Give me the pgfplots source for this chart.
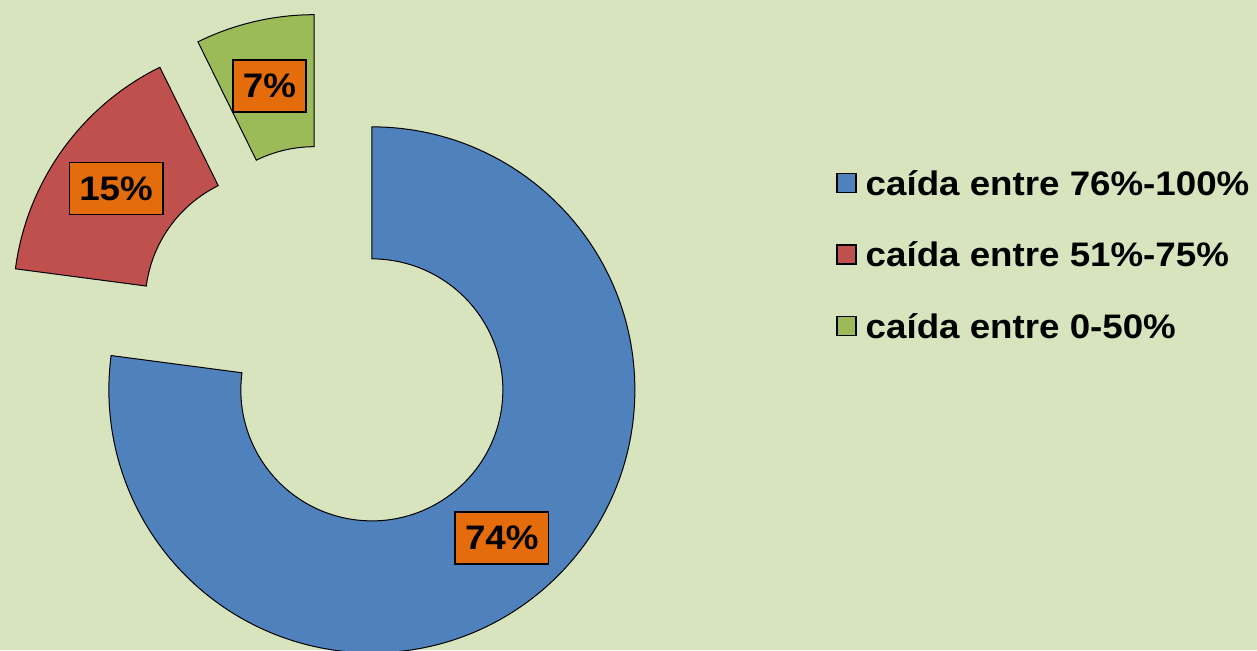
\documentclass[border=0pt]{standalone}
\usepackage{fontspec}
\setmainfont{Liberation Sans}[FakeStretch=1.08]
\usepackage{pgfplots}
\usepackage{pgfplotstable}
\pgfplotsset{compat=1.18}
\definecolor{bg}{HTML}{D7E4BD}
\definecolor{cA}{HTML}{4F81BD}
\definecolor{cB}{HTML}{C0504D}
\definecolor{cC}{HTML}{9BBB59}
\definecolor{lab}{HTML}{E46C0A}

\pgfplotstableread{
value
74
15
7
}\donut

\begin{document}
\begin{tikzpicture}
\pgfplotstablegetelem{0}{value}\of\donut \let\vA\pgfplotsretval
\pgfplotstablegetelem{1}{value}\of\donut \let\vB\pgfplotsretval
\pgfplotstablegetelem{2}{value}\of\donut \let\vC\pgfplotsretval
\pgfmathsetmacro\tot{\vA+\vB+\vC}
\pgfmathsetmacro\aA{90}
\pgfmathsetmacro\bA{90-(\vA/\tot)*360}
\pgfmathsetmacro\bB{\bA-(\vB/\tot)*360}
\pgfmathsetmacro\bC{-270}
\pgfmathsetmacro\mA{(\aA+\bA)/2}
\pgfmathsetmacro\mB{(\bA+\bB)/2}
\pgfmathsetmacro\mC{(\bB+\bC)/2}
% exploded centres (centre 329,309; explosion 65)
\pgfmathsetmacro\xA{329+65*cos(\mA)}\pgfmathsetmacro\yA{309+65*sin(\mA)}
\pgfmathsetmacro\xB{329+65*cos(\mB)}\pgfmathsetmacro\yB{309+65*sin(\mB)}
\pgfmathsetmacro\xC{329+65*cos(\mC)}\pgfmathsetmacro\yC{309+65*sin(\mC)}
% label positions
\pgfmathsetmacro\lxA{\xA+197*cos(\mA)}\pgfmathsetmacro\lyA{\yA+197*sin(\mA)}
\pgfmathsetmacro\lxB{\xB+197*cos(\mB)}\pgfmathsetmacro\lyB{\yB+197*sin(\mB)}
\pgfmathsetmacro\lxC{\xC+197*cos(\mC)}\pgfmathsetmacro\lyC{\yC+197*sin(\mC)}
\begin{axis}[x=1pt,y=1pt,xmin=0,xmax=1257,ymin=0,ymax=650,hide axis,
  legend style={at={(axis cs:836,481)},anchor=north west,draw=none,fill=none,
    font=\fontsize{34}{40}\selectfont\bfseries,inner sep=0pt,
    row sep=37.5pt,
    nodes={inner sep=0pt,text height=26pt,text depth=8pt},
    /tikz/every odd column/.append style={column sep=9pt}},
  legend cell align=left,
  legend image code/.code={\draw[#1,line width=1.5pt] (0pt,-6.5pt) rectangle (19pt,12.5pt);}]
\fill[bg] (axis cs:0,0) rectangle (axis cs:1257,650);
\addlegendimage{draw=black,fill=cA}
\addlegendentry{caída entre 76\%-100\%}
\addlegendimage{draw=black,fill=cB}
\addlegendentry{caída entre 51\%-75\%}
\addlegendimage{draw=black,fill=cC}
\addlegendentry{caída entre 0-50\%}
\draw[fill=cA,line width=1pt] (axis cs:\xA,\yA) ++(\aA:263pt) arc[start angle=\aA,end angle=\bA,radius=263pt] -- ++(\bA:-132pt) arc[start angle=\bA,end angle=\aA,radius=131pt] -- cycle;
\draw[fill=cB,line width=1pt] (axis cs:\xB,\yB) ++(\bA:263pt) arc[start angle=\bA,end angle=\bB,radius=263pt] -- ++(\bB:-132pt) arc[start angle=\bB,end angle=\bA,radius=131pt] -- cycle;
\draw[fill=cC,line width=1pt] (axis cs:\xC,\yC) ++(\bB:263pt) arc[start angle=\bB,end angle=\bC,radius=263pt] -- ++(\bC:-132pt) arc[start angle=\bC,end angle=\bB,radius=131pt] -- cycle;
\tikzset{lbl/.style={fill=lab,draw=black,line width=1.5pt,font=\fontsize{34}{40}\selectfont\bfseries,inner xsep=10pt,inner ysep=0pt,minimum height=52pt}}
\node[lbl] at (axis cs:\lxA,\lyA) {\vA\%};
\node[lbl] at (axis cs:\lxB,\lyB) {\vB\%};
\node[lbl] at (axis cs:\lxC,\lyC) {\vC\%};
\end{axis}
\pgfresetboundingbox
\path (current axis.south west) rectangle (current axis.north east);
\end{tikzpicture}
\end{document}
